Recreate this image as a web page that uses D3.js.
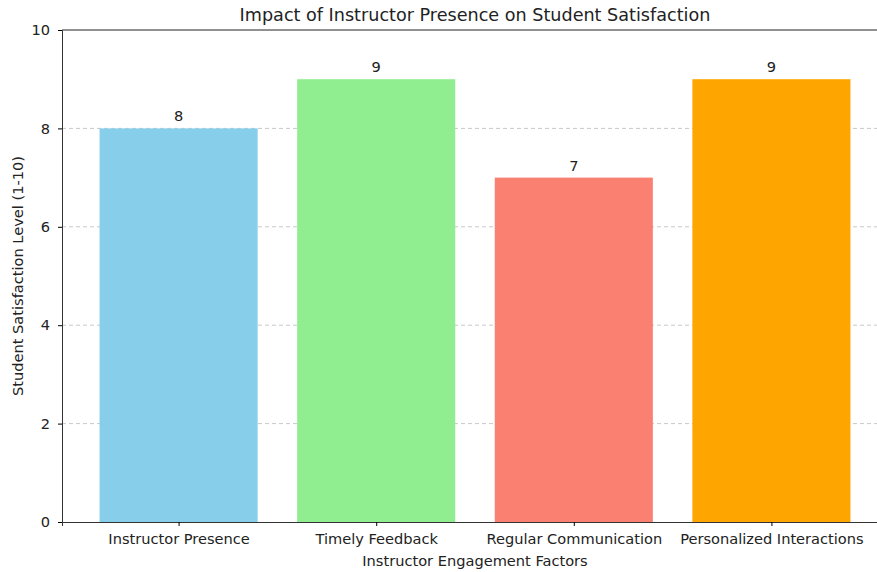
<!DOCTYPE html>
<html>
<head>
<meta charset="utf-8">
<script src="https://cdn.jsdelivr.net/npm/d3@7"></script>
<style>
  body { margin: 0; background: #fff; }
  text { font-family: "DejaVu Sans", sans-serif; fill: #222; }
</style>
</head>
<body>
<svg id="chart" width="877" height="572"></svg>
<script>
const categories = ["Instructor Presence", "Timely Feedback", "Regular Communication", "Personalized Interactions"];
const satisfaction = [8, 9, 7, 9];
const barColors = ["#87CEEB", "#90EE90", "#FA8072", "#FFA500"];
const yTicks = [0, 2, 4, 6, 8, 10];

const svg = d3.select("#chart");
const margin = { top: 30, left: 62, bottom: 50 };
const plotBottom = 572 - margin.bottom;
const plotRight = 888;
const fs = "14.6px";

// matplotlib-ish x limits: -0.4 - 5% ... 3.4 + 5%
const x = d3.scaleLinear().domain([-0.59, 3.59]).range([margin.left, plotRight]);
const y = d3.scaleLinear().domain([0, 10]).range([plotBottom, margin.top]);
const barW = 0.8;

// grid lines
svg.append("g")
  .selectAll("line")
  .data(yTicks.filter(d => d > 0 && d < 10))
  .join("line")
  .attr("x1", margin.left).attr("x2", plotRight)
  .attr("y1", d => y(d)).attr("y2", d => y(d))
  .attr("stroke", "#c8c8c8").attr("stroke-width", 1)
  .attr("stroke-dasharray", "4,3");

// bars
svg.append("g")
  .selectAll("rect")
  .data(satisfaction)
  .join("rect")
  .attr("x", (d, i) => x(i - barW / 2))
  .attr("width", (d, i) => x(i + barW / 2) - x(i - barW / 2))
  .attr("y", d => y(d))
  .attr("height", d => y(0) - y(d))
  .attr("fill", (d, i) => barColors[i]);

// value labels
svg.append("g")
  .selectAll("text")
  .data(satisfaction)
  .join("text")
  .attr("x", (d, i) => x(i))
  .attr("y", d => y(d) - 7)
  .attr("text-anchor", "middle")
  .style("font-size", fs)
  .text(d => d);

// y axis
const yAxis = svg.append("g")
  .attr("transform", `translate(${margin.left},0)`)
  .call(d3.axisLeft(y).tickValues(yTicks).tickSize(4).tickPadding(8));
yAxis.selectAll("text").style("font-size", fs);
yAxis.select(".domain").attr("stroke", "#333");

// x axis
const xAxis = svg.append("g")
  .attr("transform", `translate(0,${plotBottom})`)
  .call(d3.axisBottom(x).tickValues(d3.range(categories.length))
    .tickFormat(i => categories[i]).tickSize(4).tickPadding(8));
xAxis.selectAll("text").style("font-size", fs);
xAxis.select(".domain").attr("stroke", "#333");

// top spine
svg.append("line")
  .attr("x1", margin.left).attr("x2", plotRight)
  .attr("y1", margin.top).attr("y2", margin.top)
  .attr("stroke", "#222");

// title and axis labels
svg.append("text")
  .attr("x", (margin.left + plotRight) / 2).attr("y", 21)
  .attr("text-anchor", "middle")
  .style("font-size", "17.6px")
  .text("Impact of Instructor Presence on Student Satisfaction");

svg.append("text")
  .attr("x", (margin.left + plotRight) / 2).attr("y", 566)
  .attr("text-anchor", "middle")
  .style("font-size", fs)
  .text("Instructor Engagement Factors");

svg.append("text")
  .attr("transform", `translate(23,${(margin.top + plotBottom) / 2}) rotate(-90)`)
  .attr("text-anchor", "middle")
  .style("font-size", fs)
  .text("Student Satisfaction Level (1-10)");
</script>
</body>
</html>
